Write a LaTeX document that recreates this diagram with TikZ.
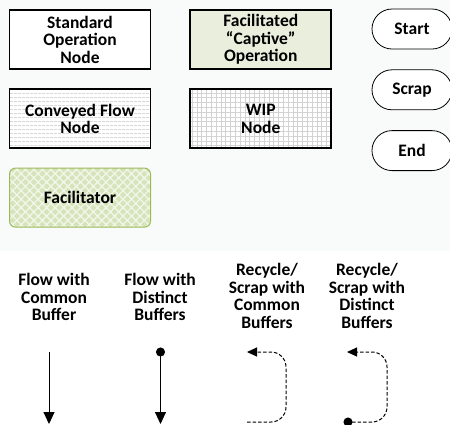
\documentclass[tikz,border=0pt]{standalone}
\usepackage{fontspec}
\setmainfont{Carlito}
\usepackage{tikz}
\usetikzlibrary{arrows.meta,positioning,shapes.misc,patterns.meta}

\definecolor{bgtop}{RGB}{249,250,250}
\definecolor{captive}{RGB}{234,238,221}
\definecolor{facline}{RGB}{155,187,89}
\definecolor{facfill}{RGB}{214,228,188}

\tikzset{
    lbl/.style      = {font=\bfseries\fontsize{17.5}{17.5}\selectfont, align=center},
    opbox/.style    = {lbl, draw, line width=1.8pt, minimum width=141pt, minimum height=59pt, inner sep=0pt},
    terminal/.style = {lbl, draw, line width=0.8pt, rounded rectangle, minimum width=80pt, minimum height=40pt, inner sep=0pt},
    flow/.style     = {line width=0.9pt},
    recycle/.style  = {line width=1pt, dash pattern=on 3.5pt off 2pt, rounded corners=15pt}
}

\begin{document}
\begin{tikzpicture}[x=1pt, y=-1pt, >={Triangle[length=12pt,width=11pt]}]
    \useasboundingbox (0,0) rectangle (450,424);
    \fill [bgtop] (0,0) rectangle (450,251);

    % Nodes {std, fac, conv, wip, facil, start, scrap, stop}
    \node [opbox, fill=white]                       (std)   at (80,39.5)         {Standard\\Operation\\Node};
    \node [opbox, fill=captive]                     (fac)   [right=38pt of std]  {Facilitated\\``Captive''\\Operation};
    \node [opbox, preaction={fill=white}, pattern color=gray!45,
           pattern={Lines[angle=0,distance=4pt,line width=0.6pt]}]
                                                    (conv)  [below=19pt of std]  {Conveyed Flow\\Node};
    \node [opbox, preaction={fill=white}, pattern color=gray!35,
           pattern={Hatch[angle=0,distance=4.8pt,line width=0.6pt]}]
                                                    (wip)   [below=19pt of fac]  {WIP\\Node};
    \node [opbox, draw=facline, line width=1pt, rounded corners=6pt,
           preaction={fill=facfill}, pattern color=white!70!facfill,
           pattern={Hatch[angle=45,distance=6pt,line width=1.2pt]}]
                                                    (facil) [below=19pt of conv] {Facilitator};
    \node [terminal, fill=white]                    (start) at (412,29)          {Start};
    \node [terminal, fill=white]                    (scrap) [below=20pt of start]  {Scrap};
    \node [terminal, fill=white]                    (stop)  [below=20pt of scrap]  {End};

    % Legend labels
    \node [lbl] (common)   at (54,297)  {Flow with\\Common\\Buffer};
    \node [lbl] (distinct) at (160,297) {Flow with\\Distinct\\Buffers};
    \node [lbl] (reccom)   at (267,296) {Recycle/\\Scrap with\\Common\\Buffers};
    \node [lbl] (recdis)   at (367,296) {Recycle/\\Scrap with\\Distinct\\Buffers};

    % Connector ends
    \coordinate (c1a) at (49,352);
    \coordinate (c1b) at (49,424);
    \coordinate (d1a) at (160.5,347.5);
    \coordinate (d1b) at (160.5,424);
    \coordinate (r1a) at (247,422);
    \coordinate (r1m) at (286,387);
    \coordinate (r1b) at (247,352);
    \coordinate (r2a) at (343.5,422);
    \coordinate (r2m) at (387,387);
    \coordinate (r2b) at (347,352);

    % Paths
    \draw [flow, ->]                        (c1a) -- (c1b);
    \draw [flow, {Circle[length=9pt]}->]    (d1a) -- (d1b);
    \draw [recycle, -{Triangle[length=10pt,width=9pt]}]
                                            (r1a) -| (r1m) |- (r1b);
    \draw [recycle, {Circle[length=9pt]}-{Triangle[length=10pt,width=9pt]}]
                                            (r2a) -| (r2m) |- (r2b);
\end{tikzpicture}
\end{document}
